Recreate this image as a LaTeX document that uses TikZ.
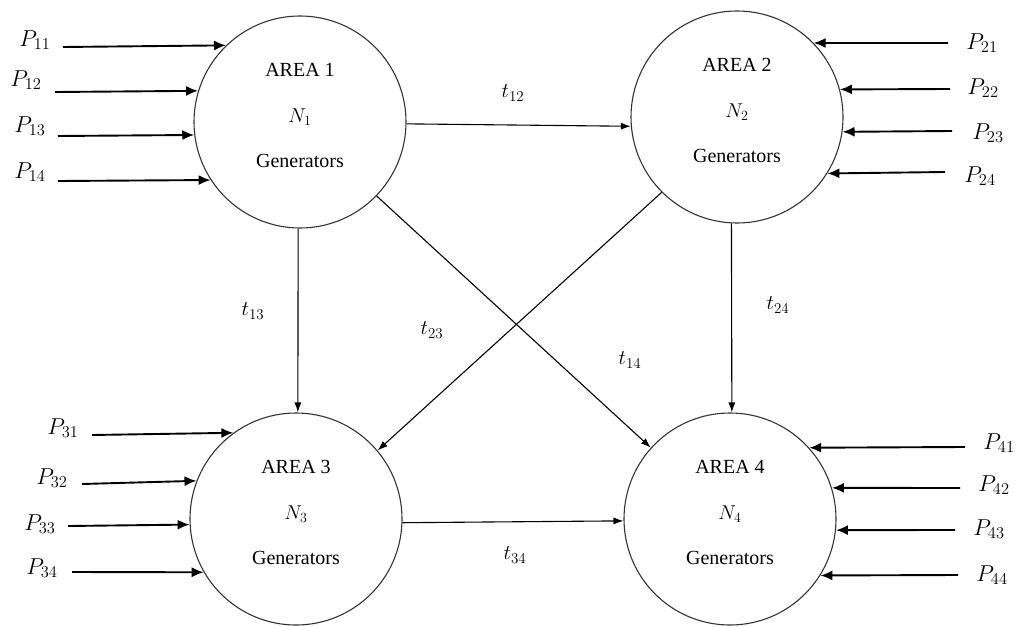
\documentclass[tikz,border=0pt]{standalone}
\usepackage{fix-cm}
\usepackage{fontspec}
\setmainfont{Liberation Serif}
\usetikzlibrary{arrows.meta}
\DeclareMathSizes{23}{23}{16.5}{12}
\DeclareMathSizes{21}{21}{15}{11}
\DeclareMathSizes{20}{20}{14}{10}
\newcommand\areatext[1]{AREA #1\\{\fontsize{20}{45.5}\selectfont$N_{#1}$}\\Generators\rule[-13pt]{0pt}{13pt}}
\begin{document}
\begin{tikzpicture}[x=1pt,y=-1pt,
  area/.style={circle, draw=black!80, line width=1.1pt, minimum size=212pt, inner sep=0pt,
    align=center, font=\fontsize{20}{45.5}\selectfont},
  feed/.style={line width=1.9pt, -{Latex[length=12pt,width=10pt]}},
  tie/.style={line width=1.1pt, -{Latex[length=10pt,width=7pt]}},
  plab/.style={font=\fontsize{23}{26}\selectfont, inner sep=0pt},
  tlab/.style={font=\fontsize{21}{24}\selectfont, inner sep=0pt}]
\useasboundingbox (0,0) rectangle (1019,626);

% areas
\node[area] (a1) at (300,122) {\areatext{1}};
\node[area] (a2) at (737,117) {\areatext{2}};
\node[area] (a3) at (296,519) {\areatext{3}};
\node[area] (a4) at (730,519) {\areatext{4}};

% area 1 inputs
\coordinate (s11) at (63,47);
\coordinate (s12) at (55,92);
\coordinate (s13) at (58,136);
\coordinate (s14) at (58,181);
\draw[feed] (s11) -- (a1.134.97);
\draw[feed] (s12) -- (a1.163.56);
\draw[feed] (s13) -- (a1.187.59);
\draw[feed] (s14) -- (a1.213.82);
\node[plab] (p11) at (35,40) {$P_{11}$};
\node[plab] (p12) at (26,80) {$P_{12}$};
\node[plab] (p13) at (30,126) {$P_{13}$};
\node[plab] (p14) at (30,172) {$P_{14}$};

% area 2 inputs
\coordinate (s21) at (948,43);
\coordinate (s22) at (950,89);
\coordinate (s23) at (952,131);
\coordinate (s24) at (945,172);
\draw[feed] (s21) -- (a2.44.28);
\draw[feed] (s22) -- (a2.15.32);
\draw[feed] (s23) -- (a2.352.41);
\draw[feed] (s24) -- (a2.328.74);
\node[plab] (p21) at (982,43) {$P_{21}$};
\node[plab] (p22) at (983,88) {$P_{22}$};
\node[plab] (p23) at (988,133) {$P_{23}$};
\node[plab] (p24) at (980,176) {$P_{24}$};

% area 3 inputs
\coordinate (s31) at (92,435);
\coordinate (s32) at (82,484);
\coordinate (s33) at (68,526);
\coordinate (s34) at (72,572);
\draw[feed] (s31) -- (a3.126.2);
\draw[feed] (s32) -- (a3.159.6);
\draw[feed] (s33) -- (a3.183.8);
\draw[feed] (s34) -- (a3.210.0);
\node[plab] (p31) at (63,428) {$P_{31}$};
\node[plab] (p32) at (52,478) {$P_{32}$};
\node[plab] (p33) at (40,524) {$P_{33}$};
\node[plab] (p34) at (42,568) {$P_{34}$};

% area 4 inputs
\coordinate (s41) at (965,447);
\coordinate (s42) at (960,488);
\coordinate (s43) at (955,530);
\coordinate (s44) at (958,575);
\draw[feed] (s41) -- (a4.42.8);
\draw[feed] (s42) -- (a4.17.0);
\draw[feed] (s43) -- (a4.354.0);
\draw[feed] (s44) -- (a4.328.0);
\node[plab] (p41) at (999,443) {$P_{41}$};
\node[plab] (p42) at (994,485) {$P_{42}$};
\node[plab] (p43) at (989,529) {$P_{43}$};
\node[plab] (p44) at (992,575) {$P_{44}$};

% tie lines
\draw[tie] (a1.-1) -- (a2.185);
\draw[tie] (a1.269) -- (a3.89);
\draw[tie] (a2.267.3) -- (a4.89);
\draw[tie] (a1.316.1) -- (a4.138.8);
\draw[tie] (a2.225.4) -- (a3.40);
\draw[tie] (a3.358.4) -- (a4.181.6);

\node[tlab] (l12) at (513,93) {$t_{12}$};
\node[tlab] (l13) at (253,311) {$t_{13}$};
\node[tlab] (l23) at (432,330) {$t_{23}$};
\node[tlab] (l14) at (630,360) {$t_{14}$};
\node[tlab] (l24) at (778,305) {$t_{24}$};
\node[tlab] (l34) at (515,555) {$t_{34}$};
\end{tikzpicture}
\end{document}
